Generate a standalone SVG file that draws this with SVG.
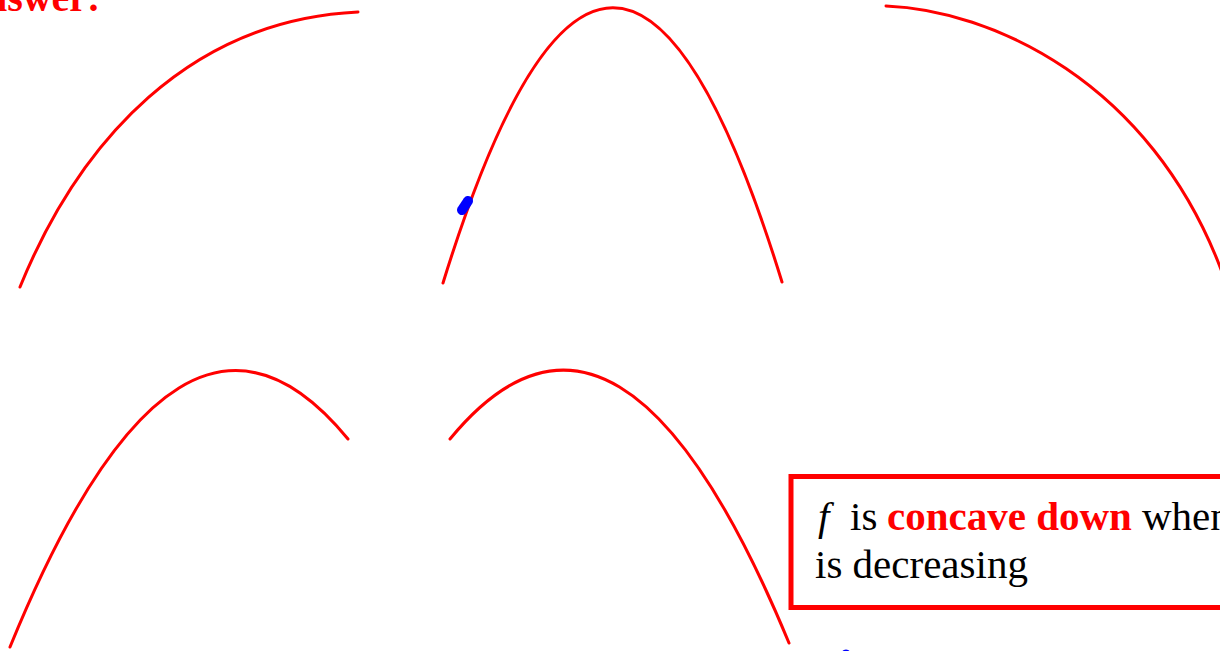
<svg xmlns="http://www.w3.org/2000/svg" width="1220" height="651" viewBox="0 0 1220 651">
<style>
.curve{fill:none;stroke:#ff0000;stroke-width:3;stroke-linecap:round}
.txt{font-family:"Liberation Serif","Times New Roman",serif;font-size:41px;fill:#000}
.red{fill:#ff0000;font-weight:bold}
</style>
<rect width="1220" height="651" fill="#ffffff"/>
<g id="title">
<text x="-44" y="11" class="txt red" style="font-size:40px">Answer:</text>
</g>
<g id="curves">
<path id="c1" class="curve" d="M20,287 C80,140 190,20 358,12"/>
<path id="c2" class="curve" d="M443,283 Q613,-267 782,282"/>
<path id="c3" class="curve" d="M886,6 C990,10 1150,80 1222,272"/>
<path id="c4" class="curve" d="M10,647 Q179,233 348,439"/>
<path id="c5" class="curve" d="M450,439 Q619.5,233 789,643"/>
</g>
<g id="points">
<line x1="462" y1="210" x2="468" y2="201" stroke="#0000ff" stroke-width="10" stroke-linecap="round"/>
<ellipse cx="846" cy="653" rx="4" ry="3.5" fill="#0000ff"/>
</g>
<g id="note">
<rect x="791" y="476.5" width="440" height="131" fill="none" stroke="#ff0000" stroke-width="5"/>
<text class="txt" y="530"><tspan x="818" font-style="italic">f</tspan><tspan x="850">is</tspan><tspan x="887" class="red">concave down</tspan><tspan x="1142">when</tspan></text>
<text class="txt" x="815" y="578">is decreasing</text>
</g>
</svg>
